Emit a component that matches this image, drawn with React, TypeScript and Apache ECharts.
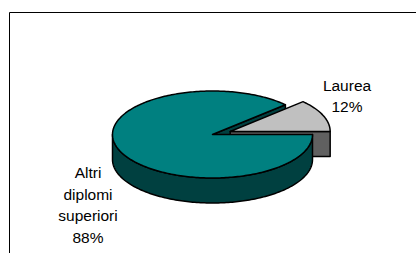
import React, { useEffect, useRef } from "react";
import * as echarts from "echarts";

// ---- data ----
const categories = ["Laurea", "Altri diplomi superiori"];
const values = [12, 88];

// ---- layout / style ----
const CX = 212.5;
const CY = 134.5;
const RX = 100;
const RY = 43.5;
const DEPTH = 25;
const EXPLODE = [0.19, 0];
const TOP_COLORS = ["#C0C0C0", "#008080"];
const SIDE_COLORS = ["#606060", "#004040"];
const LABEL_POS = [
  [347, 96],
  [88, 205],
];
const FONT = "'Liberation Sans', Arial, sans-serif";

function renderItem(params: any, api: any) {
  const i = params.dataIndex;
  const total = values.reduce((a, b) => a + b, 0);
  let before = 0;
  for (let k = 0; k < i; k++) before += values[k];
  const v = api.value(0);
  const a0 = (before / total) * 2 * Math.PI;
  const a1 = ((before + v) / total) * 2 * Math.PI;
  const mid = (a0 + a1) / 2;
  const e = EXPLODE[i] || 0;
  const ox = e * RX * Math.cos(mid);
  const oy = -e * RY * Math.sin(mid);
  const offBack = e * Math.sin(mid);
  const pt = (t: number, z: number) => [
    CX + ox + RX * Math.cos(t),
    CY + oy - RY * Math.sin(t) + z,
  ];
  const c = [CX + ox, CY + oy];
  const arc = (s: number, t: number, z: number) => {
    const n = Math.max(2, Math.ceil(Math.abs(t - s) / 0.02));
    const pts: number[][] = [];
    for (let j = 0; j <= n; j++) pts.push(pt(s + ((t - s) * j) / n, z));
    return pts;
  };
  const stroke = { stroke: "#000", lineWidth: 1.5, lineJoin: "round" };
  const children: any[] = [];
  const side = (points: number[][], back: number) => {
    children.push({
      type: "polygon",
      z2: Math.round(500 - back * 100),
      shape: { points },
      style: { fill: SIDE_COLORS[i], ...stroke },
    });
  };
  // outer wall (front-facing parts only)
  const fronts = [
    [-Math.PI, 0],
    [Math.PI, 2 * Math.PI],
    [3 * Math.PI, 4 * Math.PI],
  ];
  for (const [fs, fe] of fronts) {
    const s = Math.max(a0, fs);
    const t = Math.min(a1, fe);
    if (t > s + 1e-6) {
      side([...arc(s, t, 0), ...arc(t, s, DEPTH)], Math.sin((s + t) / 2) + offBack);
    }
  }
  // cut faces
  const cut = (a: number) => [c, pt(a, 0), pt(a, DEPTH), [c[0], c[1] + DEPTH]];
  if (Math.cos(a0) > 1e-9) side(cut(a0), 0.5 * Math.sin(a0) + offBack);
  if (Math.cos(a1) < -1e-9) side(cut(a1), 0.5 * Math.sin(a1) + offBack);
  // top face
  children.push({
    type: "polygon",
    z2: 1000,
    shape: { points: [c, ...arc(a0, a1, 0)] },
    style: { fill: TOP_COLORS[i], ...stroke },
  });
  // label
  const pct = Math.round((v / total) * 100) + "%";
  children.push({
    type: "text",
    z2: 1001,
    x: LABEL_POS[i][0],
    y: LABEL_POS[i][1],
    style: {
      text: categories[i].split(" ").join("\n") + "\n" + pct,
      fill: "#000",
      fontSize: 15.5,
      fontFamily: FONT,
      align: "center",
      verticalAlign: "middle",
      lineHeight: 21.5,
    },
  });
  return { type: "group", children };
}

export default function App() {
  const ref = useRef<HTMLDivElement>(null);
  useEffect(() => {
    if (!ref.current) return;
    const chart = echarts.init(ref.current, null, { renderer: "svg" });
    chart.setOption({
      animation: false,
      backgroundColor: "#fff",
      graphic: [
        {
          type: "rect",
          z: 0,
          shape: { x: 9.5, y: 12.5, width: 600, height: 400 },
          style: { fill: "none", stroke: "#000", lineWidth: 1 },
          silent: true,
        },
      ],
      series: [
        {
          type: "custom",
          coordinateSystem: "none",
          renderItem,
          data: values.map((v, i) => ({ name: categories[i], value: v })),
        },
      ],
    });
    return () => chart.dispose();
  }, []);
  return (
    <div
      ref={ref}
      style={{ position: "absolute", left: 0, top: 0, width: 416, height: 253 }}
    />
  );
}
